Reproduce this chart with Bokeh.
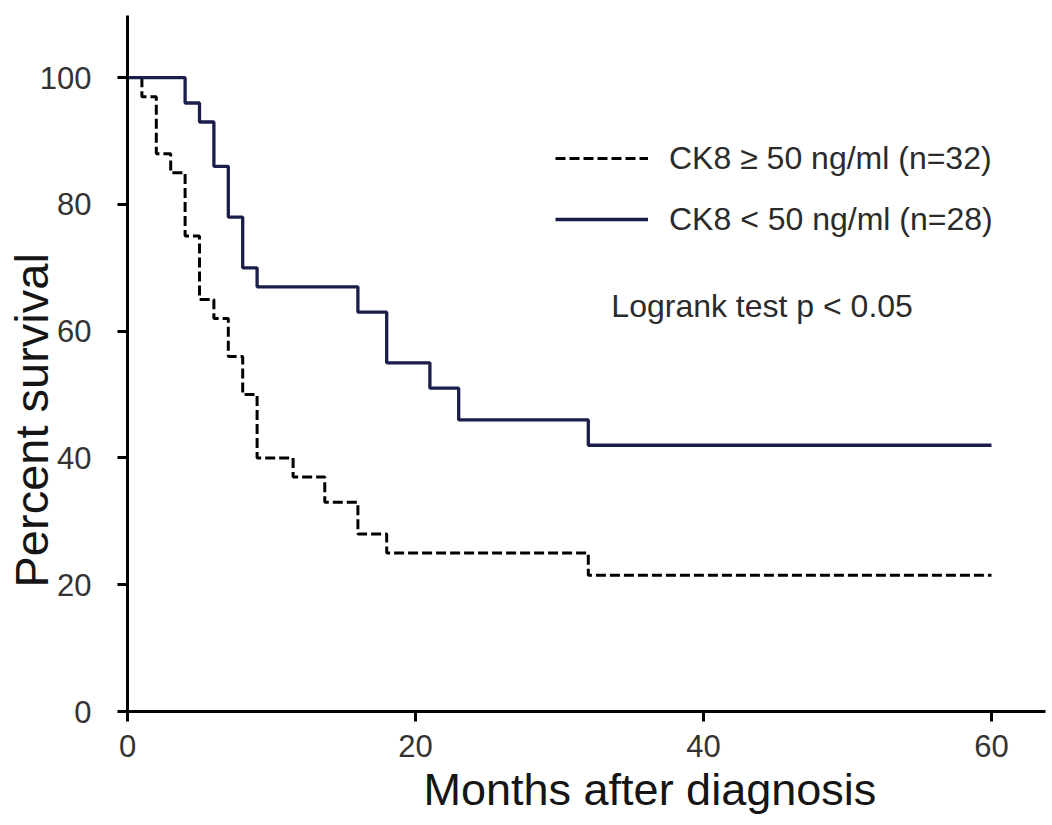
from bokeh.plotting import figure
from bokeh.models import FixedTicker, Legend, LegendItem, Label, Range1d, Title
from bokeh.embed import file_html
from bokeh.resources import INLINE

# ---- data ----
months_high = [0, 1, 2, 3, 4, 5, 6, 7, 8, 9, 11.5, 13.7, 16, 18, 32, 60]
survival_high = [100, 97, 88, 85, 75, 65, 62, 56, 50, 40, 37, 33, 28, 25, 21.5, 21.5]
months_low = [0, 4, 5, 6, 7, 8, 9, 16, 18, 21, 23, 32, 60]
survival_low = [100, 96, 93, 86, 78, 70, 67, 63, 55, 51, 46, 42, 42]
x_ticks = [0, 20, 40, 60]
y_ticks = [0, 20, 40, 60, 80, 100]
label_high = "CK8 \u2265 50 ng/ml (n=32)"
label_low = "CK8 < 50 ng/ml (n=28)"
stat_text = "Logrank test  p < 0.05"
x_title = "Months after diagnosis"
y_title = "Percent survival"

FONT = "Liberation Sans, Arial, sans-serif"

p = figure(width=1050, height=822,
           x_range=Range1d(0, 63.75), y_range=Range1d(0, 109.8),
           output_backend="svg", toolbar_location=None,
           min_border_left=127, min_border_right=5,
           min_border_top=15, min_border_bottom=111)
p.outline_line_color = None
p.grid.visible = False
p.background_fill_color = "white"
p.border_fill_color = "white"

r_high = p.step(months_high, survival_high, mode="after",
                line_color="#000000", line_width=3, line_dash="10 4")
r_low = p.step(months_low, survival_low, mode="after",
               line_color="#1b1e4b", line_width=3.3)

for ax, ticks in ((p.xaxis[0], x_ticks), (p.yaxis[0], y_ticks)):
    ax.ticker = FixedTicker(ticks=ticks)
    ax.minor_tick_line_color = None
    ax.axis_line_width = 3
    ax.axis_line_color = "#000000"
    ax.major_tick_line_width = 3
    ax.major_tick_line_color = "#000000"
    ax.major_tick_in = 0
    ax.major_tick_out = 10
    ax.major_label_text_font = FONT
    ax.major_label_text_color = "#333333"

p.xaxis[0].major_label_text_font_size = "31px"
p.xaxis[0].major_label_standoff = 13
p.yaxis[0].major_label_text_font_size = "31px"
p.yaxis[0].major_label_standoff = 26

legend = Legend(items=[LegendItem(label=label_high, renderers=[r_high]),
                       LegendItem(label=label_low, renderers=[r_low])],
                location=(428, 472), orientation="vertical",
                glyph_width=93, glyph_height=40, label_height=40,
                spacing=21, label_standoff=21, padding=0, margin=0,
                border_line_alpha=0, background_fill_alpha=0,
                label_text_font=FONT, label_text_font_size="32px",
                label_text_color="#2b2b2b")
p.add_layout(legend)

p.add_layout(Label(x=33.6, y=64.0, text=stat_text, text_align="left",
                   text_baseline="middle", text_font=FONT,
                   text_font_size="32px", text_color="#2b2b2b"))

p.add_layout(Title(text=x_title, align="left", offset=296,
                   vertical_align="top", standoff=8,
                   text_font=FONT, text_font_size="45px",
                   text_font_style="normal", text_color="#151515"), "below")
p.add_layout(Title(text=y_title, align="left", offset=124,
                   vertical_align="bottom", standoff=-43,
                   text_font=FONT, text_font_size="47px",
                   text_font_style="normal", text_color="#151515"), "left")

open("out.html", "w").write(file_html(p, INLINE))
